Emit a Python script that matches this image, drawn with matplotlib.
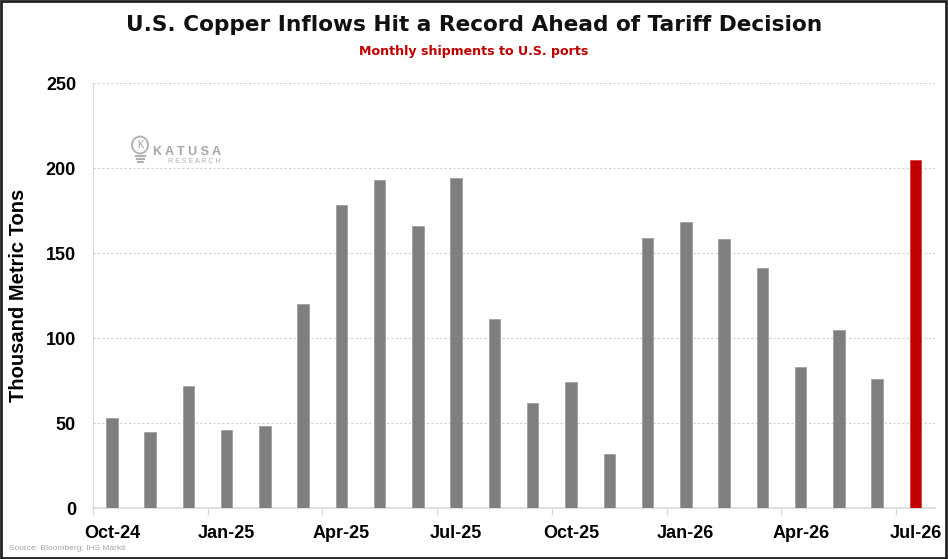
import numpy as np
import matplotlib
matplotlib.use("Agg")
import matplotlib.pyplot as plt
from matplotlib.patches import Rectangle, Ellipse
from matplotlib.lines import Line2D

# data (thousand metric tons)
months = ["Oct-24", "Nov-24", "Dec-24", "Jan-25", "Feb-25", "Mar-25", "Apr-25",
          "May-25", "Jun-25", "Jul-25", "Aug-25", "Sep-25", "Oct-25", "Nov-25",
          "Dec-25", "Jan-26", "Feb-26", "Mar-26", "Apr-26", "May-26", "Jun-26",
          "Jul-26"]
inflows = [53, 45, 72, 46, 48, 120, 178, 193, 166, 194, 111, 62, 74, 32,
           159, 168, 158, 141, 83, 105, 76, 205]
highlight = "Jul-26"
yticks = [0, 50, 100, 150, 200, 250]

GRAY = "#7f7f7f"
RED = "#c00000"
ARIAL = ["Liberation Sans", "DejaVu Sans"]

fig = plt.figure(figsize=(9.48, 5.59), dpi=100)
ax = fig.add_axes([0.0978, 0.0912, 0.888, 0.7603])

x = np.arange(len(months))
colors = [RED if m == highlight else GRAY for m in months]
edges = ["#d04040" if m == highlight else "#a0a0a0" for m in months]
ax.bar(x, inflows, width=0.3, color=colors, edgecolor=edges, linewidth=0.6, zorder=3)

ax.set_xlim(-0.5, len(months) - 0.5)
ax.set_ylim(0, 250)
ax.set_yticks(yticks)
ax.set_yticklabels([str(v) for v in yticks], fontfamily=ARIAL, fontweight="bold", fontsize=13)

lab_idx = x[::3]
ax.set_xticks(lab_idx)
ax.set_xticklabels([months[i] for i in lab_idx], fontfamily=ARIAL, fontweight="bold", fontsize=13)
ax.set_xticks(lab_idx - 0.5, minor=True)
ax.tick_params(axis="x", which="major", length=0, pad=12)
ax.tick_params(axis="x", which="minor", length=5, color="#d9d9d9", width=1)
ax.tick_params(axis="y", length=0, pad=12)

ax.yaxis.grid(True, linestyle=(0, (2, 2)), color="#d0d0d0", linewidth=0.8, zorder=0)
for s in ["top", "right"]:
    ax.spines[s].set_visible(False)
ax.spines["left"].set_color("#d9d9d9")
ax.spines["bottom"].set_color("#d9d9d9")
ax.spines["bottom"].set_linewidth(1.2)

ax.set_ylabel("Thousand Metric Tons", fontfamily=ARIAL, fontweight="bold", fontsize=14.5)
ax.yaxis.set_label_coords(-0.077, 0.5)

fig.text(0.5, 1 - 25 / 559, "U.S. Copper Inflows Hit a Record Ahead of Tariff Decision",
         ha="center", va="center", fontfamily="DejaVu Sans", fontweight="bold", fontsize=15.6,
         color="#111111")
fig.text(0.5, 1 - 52 / 559, "Monthly shipments to U.S. ports", ha="center", va="center",
         fontfamily="DejaVu Sans", fontweight="bold", fontsize=9.1, color=RED)
fig.text(0.009, 0.018, "Source: Bloomberg; IHS Markit", ha="left", va="center",
         fontfamily=ARIAL, fontsize=6, color="#a6a6a6")

# watermark logo (light bulb + name)
W, H = 948, 559
fig.patches.append(Ellipse((140 / W, 1 - 145 / H), 16 / W, 17 / H, transform=fig.transFigure,
                           fill=False, edgecolor="#b0b0b0", linewidth=1.3))
fig.text(140 / W, 1 - 145 / H, "K", ha="center", va="center", fontsize=7, color="#a0a0a0",
         fontfamily=ARIAL)
for k, yy in enumerate([156, 159, 162]):
    half = 4.5 - k
    fig.lines.append(Line2D([(140 - half) / W, (140 + half) / W], [1 - yy / H, 1 - yy / H],
                            transform=fig.transFigure, color="#b0b0b0", linewidth=1.5))
fig.text(153 / W, 1 - 152 / H, "K A T U S A", ha="left", va="center", fontsize=9,
         fontweight="bold", color="#a6a6a6", fontfamily=ARIAL)
fig.text(220 / W, 1 - 161.5 / H, "R E S E A R C H", ha="right", va="center", fontsize=5,
         color="#b0b0b0", fontfamily=ARIAL)

# frame around the picture
fig.patches.append(Rectangle((0.001, 0.002), 0.997, 0.996, transform=fig.transFigure,
                             fill=False, edgecolor="#222222", linewidth=2))

fig.savefig("out.png", dpi=100)
